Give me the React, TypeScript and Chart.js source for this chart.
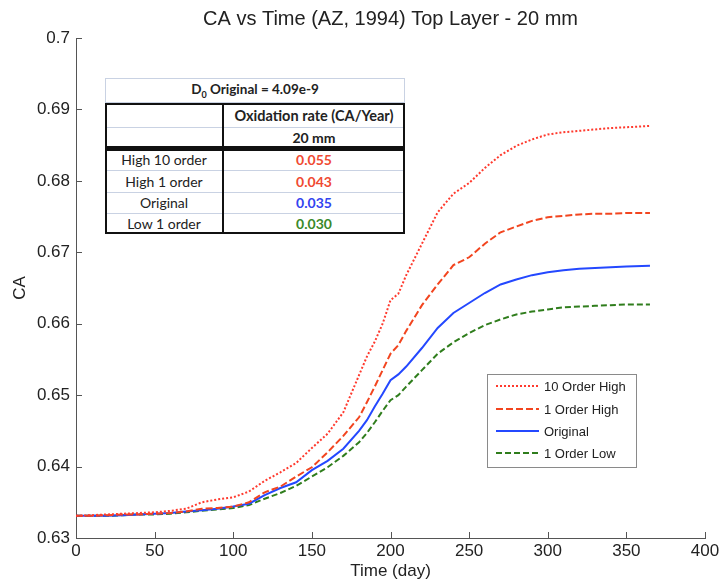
import React, { useEffect, useRef } from "react";
import { Chart, registerables } from "chart.js";
Chart.register(...registerables);

const days = [0, 10, 20, 30, 40, 50, 60, 70, 80, 90, 100, 110, 120, 130, 140, 150, 160, 170, 180, 185, 190, 195, 200, 205, 210, 220, 230, 240, 250, 260, 270, 280, 290, 300, 310, 320, 330, 340, 350, 365];

const high10 = [0.6331, 0.6332, 0.6333, 0.6334, 0.6335, 0.6336, 0.6338, 0.6341, 0.635, 0.6354, 0.6357, 0.6365, 0.638, 0.6392, 0.6405, 0.6426, 0.6446, 0.6476, 0.6528, 0.6554, 0.6575, 0.66, 0.6633, 0.6642, 0.6668, 0.6712, 0.6756, 0.6782, 0.6797, 0.6818, 0.6836, 0.6849, 0.6858, 0.6865, 0.6868, 0.687, 0.6872, 0.6874, 0.6875, 0.6877];
const high1 = [0.6331, 0.6331, 0.6332, 0.6333, 0.6333, 0.6334, 0.6335, 0.6337, 0.6341, 0.6342, 0.6344, 0.635, 0.6364, 0.6372, 0.6386, 0.6399, 0.642, 0.6443, 0.6469, 0.649, 0.6512, 0.6535, 0.6558, 0.657, 0.659, 0.6626, 0.6655, 0.6682, 0.6693, 0.6712, 0.6728, 0.6736, 0.6744, 0.6749, 0.6751, 0.6753, 0.6754, 0.6754, 0.6755, 0.6755];
const original = [0.6331, 0.6331, 0.6331, 0.6332, 0.6333, 0.6334, 0.6335, 0.6337, 0.6339, 0.6341, 0.6344, 0.6348, 0.636, 0.637, 0.6378, 0.6395, 0.6408, 0.6425, 0.645, 0.6465, 0.6484, 0.6502, 0.6521, 0.6529, 0.654, 0.6566, 0.6594, 0.6615, 0.6629, 0.6643, 0.6655, 0.6662, 0.6668, 0.6672, 0.6675, 0.6677, 0.6678, 0.6679, 0.668, 0.6681];
const low1 = [0.6331, 0.6331, 0.6331, 0.6332, 0.6333, 0.6333, 0.6334, 0.6336, 0.6338, 0.634, 0.6342, 0.6346, 0.6355, 0.6363, 0.6373, 0.6386, 0.6399, 0.6415, 0.6434, 0.6447, 0.6462, 0.6478, 0.6493, 0.65, 0.6512, 0.6535, 0.6558, 0.6574, 0.6587, 0.6598, 0.6606, 0.6613, 0.6617, 0.662, 0.6623, 0.6624, 0.6625, 0.6626, 0.6627, 0.6627];

const seriesLabels = ["10 Order High", "1 Order High", "Original", "1 Order Low"];
const seriesColors = ["#ff3a2e", "#f2451f", "#2448ff", "#2f7d1c"];
const seriesDashes = [[2, 2], [7, 3], [], [6, 3]];

const xTicks = [0, 50, 100, 150, 200, 250, 300, 350, 400];
const yTicks = [0.63, 0.64, 0.65, 0.66, 0.67, 0.68, 0.69, 0.7];

const titleText = "CA vs Time (AZ, 1994) Top Layer - 20 mm";
const tableRows = ["High 10 order", "High 1 order", "Original", "Low 1 order"];
const tableValues = ["0.055", "0.043", "0.035", "0.030"];
const tableColors = ["#f04a32", "#f04a32", "#3344f0", "#3b8a2a"];

const FONT = "'Liberation Sans', Arial, sans-serif";

export default function App() {
  const ref = useRef<HTMLCanvasElement>(null);
  useEffect(() => {
    const seriesData = [high10, high1, original, low1];
    const overlay = {
      id: "overlay",
      afterDraw(chart: any) {
        const ctx = chart.ctx;
        const a = chart.chartArea;
        const xs = chart.scales.x;
        const ys = chart.scales.y;
        ctx.save();
        ctx.strokeStyle = "#555";
        ctx.lineWidth = 1;
        ctx.beginPath();
        xTicks.forEach((t) => {
          const px = Math.round(xs.getPixelForValue(t)) + 0.5;
          ctx.moveTo(px, a.bottom);
          ctx.lineTo(px, a.bottom - 6);
        });
        yTicks.forEach((t) => {
          const py = Math.round(ys.getPixelForValue(t)) + 0.5;
          ctx.moveTo(a.left, py);
          ctx.lineTo(a.left + 6, py);
        });
        ctx.stroke();
        ctx.fillStyle = "#222";
        ctx.font = "20px " + FONT;
        ctx.textAlign = "center";
        ctx.textBaseline = "middle";
        ctx.fillText(titleText, (a.left + a.right) / 2, 19);
        const lx = 487, ly = 374, lw = 149, lh = 93;
        ctx.fillStyle = "#fff";
        ctx.fillRect(lx, ly, lw, lh);
        ctx.strokeStyle = "#8a8a8a";
        ctx.strokeRect(lx + 0.5, ly + 0.5, lw, lh);
        const rowsY = [386, 409, 431, 453];
        ctx.font = "13px " + FONT;
        ctx.textAlign = "left";
        seriesLabels.forEach((lab, i) => {
          ctx.strokeStyle = seriesColors[i];
          ctx.lineWidth = 2;
          ctx.setLineDash(seriesDashes[i]);
          ctx.beginPath();
          ctx.moveTo(496, rowsY[i]);
          ctx.lineTo(539, rowsY[i]);
          ctx.stroke();
          ctx.setLineDash([]);
          ctx.fillStyle = "#222";
          ctx.fillText(lab, 544, rowsY[i] + 1);
        });
        ctx.restore();
      },
    };
    const chart = new Chart(ref.current as HTMLCanvasElement, {
      type: "line",
      data: {
        datasets: seriesLabels.map((lab, i) => ({
          label: lab,
          data: days.map((d, j) => ({ x: d, y: seriesData[i][j] })),
          borderColor: seriesColors[i],
          backgroundColor: seriesColors[i],
          borderDash: seriesDashes[i],
          borderWidth: 2,
          pointRadius: 0,
          tension: 0,
          fill: false,
        })),
      },
      options: {
        responsive: false,
        animation: false,
        layout: { padding: { top: 38, right: 18, left: 0, bottom: 0 } },
        plugins: { legend: { display: false }, title: { display: false }, tooltip: { enabled: false } },
        scales: {
          x: {
            type: "linear",
            min: 0,
            max: 400,
            afterBuildTicks: (s: any) => { s.ticks = xTicks.map((v) => ({ value: v })); },
            afterFit: (s: any) => { s.height = 48; },
            grid: { display: false, drawTicks: false },
            border: { display: true, color: "#555", width: 1 },
            ticks: { color: "#222", font: { family: FONT, size: 17 }, padding: 3, maxRotation: 0, autoSkip: false },
            title: { display: true, text: "Time (day)", color: "#222", font: { family: FONT, size: 17 }, padding: { top: 0, bottom: 4 } },
          },
          y: {
            type: "linear",
            min: 0.63,
            max: 0.7,
            afterBuildTicks: (s: any) => { s.ticks = yTicks.map((v) => ({ value: v })); },
            afterFit: (s: any) => { s.width = 76; },
            grid: { display: false, drawTicks: false },
            border: { display: true, color: "#555", width: 1 },
            ticks: {
              color: "#222",
              font: { family: FONT, size: 17 },
              padding: 6,
              autoSkip: false,
              callback: (v: any) => String(+Number(v).toFixed(2)),
            },
            title: { display: true, text: "CA", color: "#222", font: { family: FONT, size: 17 }, padding: { top: 10, bottom: 0 } },
          },
        },
      },
      plugins: [overlay],
    } as any);
    return () => chart.destroy();
  }, []);

  const tFont = "Lato, 'Open Sans', sans-serif";
  const light = "1px solid #c9d2e3";
  const cellBase: React.CSSProperties = {
    position: "absolute",
    display: "flex",
    alignItems: "center",
    justifyContent: "center",
    fontFamily: tFont,
    fontSize: 14,
    color: "#222",
    boxSizing: "border-box",
    whiteSpace: "nowrap",
  };
  const L = 105, R = 405, C = 223;
  const rowTops = [78, 103, 127, 148, 170, 192, 213, 234];

  return (
    <div style={{ position: "absolute", left: 0, top: 0, width: 723, height: 586, background: "#fff" }}>
      <canvas ref={ref} width={723} height={586} style={{ display: "block" }} />
      <div style={{ position: "absolute", left: 0, top: 0, width: 723, height: 586, pointerEvents: "none" }}>
        <div style={{ position: "absolute", left: L, top: rowTops[0], width: R - L, height: rowTops[7] - rowTops[0], background: "#fff" }} />
        <div style={{ ...cellBase, left: L, top: rowTops[0], width: R - L, height: rowTops[1] - rowTops[0], border: light, fontWeight: 700, fontSize: 13.5 }}>
          <span>D<sub style={{ fontSize: 9 }}>0</sub> Original = 4.09e-9</span>
        </div>
        <div style={{ position: "absolute", left: L, top: rowTops[1], width: R - L, height: rowTops[3] - rowTops[1], border: "2px solid #111", boxSizing: "border-box" }} />
        <div style={{ position: "absolute", left: L + 2, top: rowTops[2], width: R - L - 4, height: 0, borderTop: light }} />
        <div style={{ ...cellBase, left: C, top: rowTops[1], width: R - C, height: rowTops[2] - rowTops[1], fontWeight: 700, fontSize: 14.5 }}>Oxidation rate (CA/Year)</div>
        <div style={{ ...cellBase, left: C, top: rowTops[2], width: R - C, height: rowTops[3] - rowTops[2], fontWeight: 700 }}>20 mm</div>
        <div style={{ position: "absolute", left: L, top: rowTops[3], width: R - L, height: rowTops[7] - rowTops[3], border: "2px solid #111", borderTopWidth: 3, boxSizing: "border-box" }} />
        {[4, 5, 6].map((k) => (
          <div key={k} style={{ position: "absolute", left: L + 2, top: rowTops[k], width: R - L - 4, height: 0, borderTop: light }} />
        ))}
        <div style={{ position: "absolute", left: C - 1, top: rowTops[1], width: 2, height: rowTops[7] - rowTops[1], background: "#111" }} />
        {tableRows.map((r, i) => (
          <React.Fragment key={r}>
            <div style={{ ...cellBase, left: L, top: rowTops[3 + i], width: C - L, height: rowTops[4 + i] - rowTops[3 + i] }}>{r}</div>
            <div style={{ ...cellBase, left: C, top: rowTops[3 + i], width: R - C, height: rowTops[4 + i] - rowTops[3 + i], color: tableColors[i], fontWeight: 700 }}>{tableValues[i]}</div>
          </React.Fragment>
        ))}
      </div>
    </div>
  );
}
